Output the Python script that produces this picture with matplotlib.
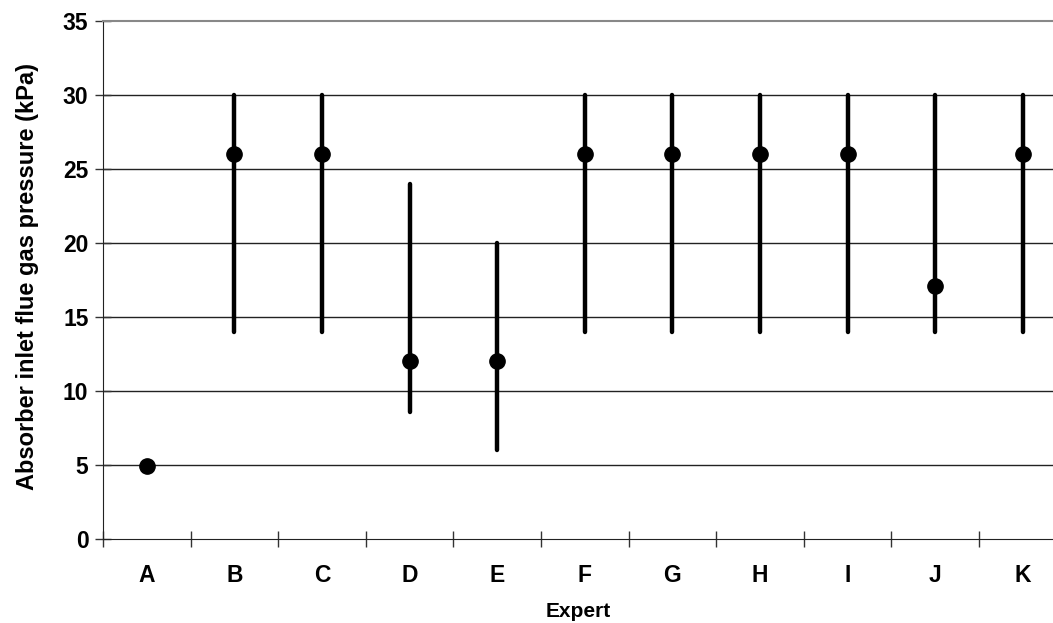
import matplotlib
matplotlib.use("Agg")
import matplotlib.pyplot as plt
import numpy as np

experts = ["A", "B", "C", "D", "E", "F", "G", "H", "I", "J", "K"]
best = [4.9, 26, 26, 12, 12, 26, 26, 26, 26, 17.1, 26]
low = [None, 14, 14, 8.6, 6, 14, 14, 14, 14, 14, 14]
high = [None, 30, 30, 24, 20, 30, 30, 30, 30, 30, 30]
yticks = [0, 5, 10, 15, 20, 25, 30, 35]

plt.rcParams['font.family'] = ['Liberation Sans', 'DejaVu Sans']
plt.rcParams['font.weight'] = 'bold'

W, H = 1053, 623
fig = plt.figure(figsize=(W / 100, H / 100), dpi=100)
left, right, bottom, top = 103, 1066.6, 539, 21
ax = fig.add_axes([left / W, 1 - bottom / H, (right - left) / W, (bottom - top) / H])

x = np.arange(len(experts))
for xi, lo, hi in zip(x, low, high):
    if lo is not None:
        ax.plot([xi, xi], [lo, hi], color='black', lw=3.2, solid_capstyle='round', zorder=3)
ax.plot(x, best, 'o', color='black', markersize=11, zorder=4)

ax.set_xlim(-0.5, len(experts) - 0.5)
ax.set_ylim(0, 35)
ax.set_yticks(yticks)
ax.set_yticklabels([str(v) for v in yticks], fontsize=16.5, fontweight='bold')
ax.set_xticks(x)
ax.set_xticklabels(experts, fontsize=16.5, fontweight='bold')
ax.set_xticks(np.arange(len(experts) + 1) - 0.5, minor=True)
ax.tick_params(axis='x', which='major', length=0, pad=18)
ax.tick_params(axis='x', which='minor', direction='inout', length=11, width=1, color='#333333')
ax.tick_params(axis='y', direction='inout', length=11, width=1, color='#333333', pad=5)

for v in yticks[1:-1]:
    ax.axhline(v, color='#222222', lw=1.0, zorder=1)

ax.spines['right'].set_visible(False)
ax.spines['top'].set_color('#888888')
ax.spines['top'].set_linewidth(1.5)
ax.spines['left'].set_color('#222222')
ax.spines['bottom'].set_color('#222222')

ax.set_xlabel('Expert', fontsize=15, fontweight='bold')
ax.xaxis.set_label_coords((578 - left) / (right - left), -0.1216)
ax.set_ylabel('Absorber inlet flue gas pressure (kPa)', fontsize=17, fontweight='bold')
ax.yaxis.set_label_coords(-0.066, (bottom - 276) / (bottom - top))

fig.savefig('out.png', dpi=100)
